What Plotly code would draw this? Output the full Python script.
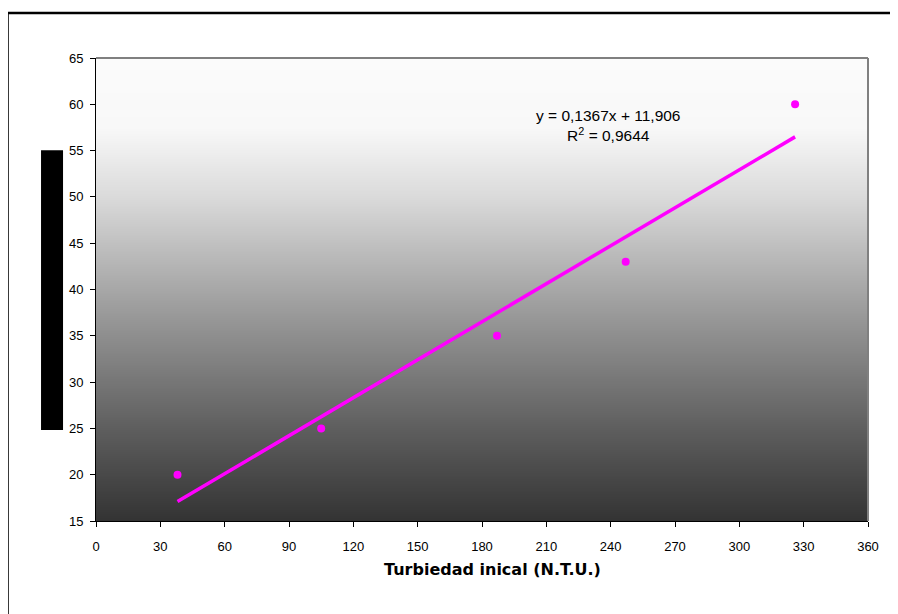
import numpy as np
import plotly.graph_objects as go

# Data
turbiedad_inicial = [38, 105, 187, 247, 326]
valores = [20, 25, 35, 43, 60]
x_ticks = list(range(0, 361, 30))
y_ticks = list(range(15, 66, 5))
x_title = "Turbiedad inical (N.T.U.)"

slope, intercept = np.polyfit(turbiedad_inicial, valores, 1)
pred = np.polyval([slope, intercept], turbiedad_inicial)
ss_res = np.sum((np.array(valores) - pred) ** 2)
ss_tot = np.sum((np.array(valores) - np.mean(valores)) ** 2)
r2 = 1 - ss_res / ss_tot

def fmt(v, d):
    return f"{v:.{d}f}".replace(".", ",")

eq_text = f"y = {fmt(slope, 4)}x + {fmt(intercept, 3)}<br>R<sup>2</sup> = {fmt(r2, 4)}"

# background gradient
gy = np.linspace(15, 65, 101)
gz = [[v, v] for v in gy]

fig = go.Figure()
fig.add_trace(go.Heatmap(
    x=[0, 360], y=gy, z=gz, zsmooth="best", showscale=False, hoverinfo="skip",
    colorscale=[[0, "#333333"], [0.2, "#5e5e5e"], [0.45, "#9a9a9a"],
                [0.7, "#dadada"], [0.85, "#f8f8f8"], [1, "#fbfbfb"]],
))

x_line = np.array([min(turbiedad_inicial), max(turbiedad_inicial)])
fig.add_trace(go.Scatter(
    x=x_line, y=slope * x_line + intercept, mode="lines",
    line=dict(color="#FF00FF", width=3.5), hoverinfo="skip", showlegend=False,
))
fig.add_trace(go.Scatter(
    x=turbiedad_inicial, y=valores, mode="markers",
    marker=dict(color="#FF00FF", size=8), showlegend=False,
))

axis_font = dict(family="Liberation Sans, Arial, sans-serif", size=13, color="#000000")

fig.update_xaxes(
    range=[0, 360], tickvals=x_ticks, ticktext=[str(t) for t in x_ticks],
    ticks="outside", ticklen=5, tickcolor="#000000", tickfont=axis_font,
    ticklabelstandoff=8,
    showline=True, linecolor="#000000", linewidth=1, showgrid=False, zeroline=False,
)
fig.update_yaxes(
    range=[15, 65], tickvals=y_ticks, ticktext=[str(t) for t in y_ticks],
    ticks="outside", ticklen=5, tickcolor="#000000", tickfont=axis_font,
    ticklabelstandoff=4,
    showline=True, linecolor="#000000", linewidth=1, showgrid=False, zeroline=False,
)

shapes = [
    # plot area border (top/right) gray
    dict(type="line", xref="paper", yref="paper", x0=0, x1=1, y0=1, y1=1,
         line=dict(color="#808080", width=2)),
    dict(type="line", xref="paper", yref="paper", x0=1, x1=1, y0=0, y1=1,
         line=dict(color="#808080", width=2)),
    # redacted y-axis title block
    dict(type="rect", xref="paper", yref="paper", x0=-0.0712, x1=-0.0427,
         y0=0.1965, y1=0.801, fillcolor="#000000", line=dict(width=0)),
    # outer chart frame
    dict(type="line", xref="paper", yref="paper", x0=-0.1146, x1=1.06,
         y0=1.0972, y1=1.0972, line=dict(color="#000000", width=2.5)),
    dict(type="line", xref="paper", yref="paper", x0=-0.1146, x1=-0.1146,
         y0=-0.25, y1=1.0972, line=dict(color="#000000", width=2.5)),
]

annotations = [
    dict(text=eq_text, xref="x", yref="paper", x=239, y=0.855,
         xanchor="center", yanchor="middle", showarrow=False, align="center",
         font=dict(family="Liberation Sans, Arial, sans-serif", size=15.5, color="#000000")),
    dict(text="<b>" + x_title + "</b>", xref="paper", yref="paper", x=0.513, y=-0.105,
         xanchor="center", yanchor="middle", showarrow=False,
         font=dict(family="DejaVu Sans, Verdana, sans-serif", size=16, color="#000000")),
]

fig.update_layout(
    width=890, height=606,
    margin=dict(l=88, r=30, t=50, b=93),
    paper_bgcolor="#ffffff", plot_bgcolor="#ffffff",
    shapes=shapes, annotations=annotations, showlegend=False,
)

fig.write_html("out.html")
